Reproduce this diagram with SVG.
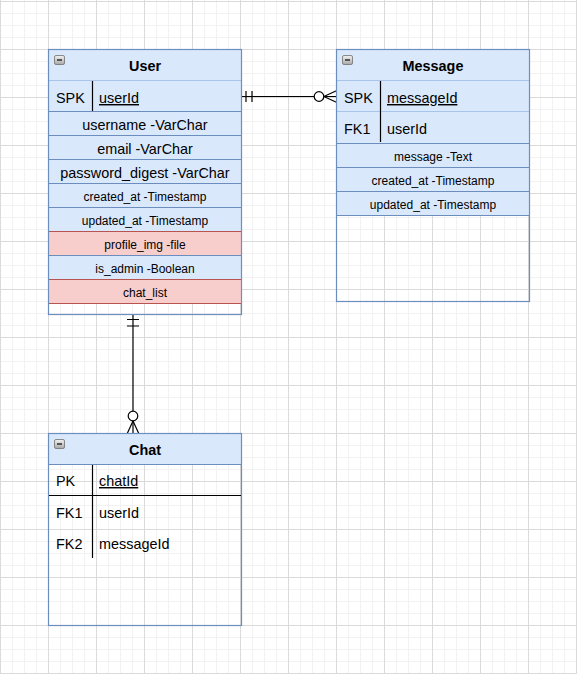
<svg xmlns="http://www.w3.org/2000/svg" width="577" height="674" viewBox="0 0 577 674">
<style>
text{font-family:"Liberation Sans",Arial,Helvetica,sans-serif;fill:#000}
.h{font-size:14.4px;font-weight:bold;text-anchor:middle}
.k{font-size:14.4px}
.a{font-size:14.4px;text-anchor:middle}
.s{font-size:12px;text-anchor:middle}
.u{text-decoration:underline}
.hdr{fill:#dae8fc;stroke:#6c8ebf;stroke-width:1}
.row{fill:#dae8fc;stroke:#6c8ebf;stroke-width:1}
.red{fill:#f8cecc;stroke:#b85450;stroke-width:1}
.box{fill:none;stroke:#6c8ebf;stroke-width:1.2}
.sep{stroke:#000;stroke-width:1.2}
.edge{fill:none;stroke:#000;stroke-width:1.2}
</style>
<defs>
<pattern id="minor" width="12" height="12" patternUnits="userSpaceOnUse" x="0" y="1">
<path d="M0.5 0V12M0 0.5H12" stroke="#f2f2f2" stroke-width="1" fill="none"/>
</pattern>
<pattern id="major" width="48" height="48" patternUnits="userSpaceOnUse" x="0" y="1">
<path d="M0.5 0V48M0 0.5H48" stroke="#dadada" stroke-width="1" fill="none"/>
</pattern>
<linearGradient id="ig" x1="0" y1="0" x2="0" y2="1">
<stop offset="0" stop-color="#f2f2f2"/>
<stop offset="1" stop-color="#a8a8a8"/>
</linearGradient>
<g id="icon">
<rect x="0" y="0" width="10" height="9" rx="1.5" fill="url(#ig)" stroke="#707070" stroke-width="0.8"/>
<path d="M2.5 4.5H7.5" stroke="#222" stroke-width="1.4"/>
</g>
</defs>
<rect width="577" height="674" fill="#fff"/>
<rect width="577" height="674" fill="url(#minor)"/>
<rect width="577" height="674" fill="url(#major)"/>

<g id="connectors">
<path class="edge" d="M241.5 96.5H337"/>
<path class="edge" d="M246 91V102M252 91V102"/>
<circle cx="319" cy="96.5" r="4.8" fill="#fff" stroke="#000" stroke-width="1.2"/>
<path class="edge" d="M323.8 96.5L337 90.5M323.8 96.5L337 102.5"/>
<path class="edge" d="M133 314.5V434"/>
<path class="edge" d="M127 319.5H139M127 326H139"/>
<circle cx="133" cy="416" r="4.8" fill="#fff" stroke="#000" stroke-width="1.2"/>
<path class="edge" d="M133 421L127 434M133 421L139 434"/>
</g>

<g id="user">
<rect class="hdr" x="48.5" y="49.5" width="193" height="31"/>
<rect class="row" x="48.5" y="80.5" width="193" height="31" style="stroke:#a9c4eb"/>
<rect class="row" x="48.5" y="111.5" width="193" height="24"/>
<rect class="row" x="48.5" y="135.5" width="193" height="24"/>
<rect class="row" x="48.5" y="159.5" width="193" height="24"/>
<rect class="row" x="48.5" y="183.5" width="193" height="24"/>
<rect class="row" x="48.5" y="207.5" width="193" height="24"/>
<rect class="red" x="48.5" y="231.5" width="193" height="24"/>
<rect class="row" x="48.5" y="255.5" width="193" height="24"/>
<rect class="red" x="48.5" y="279.5" width="193" height="24"/>
<rect class="box" x="48.5" y="49.5" width="193" height="265"/>
<path class="sep" d="M92.5 81V111"/>
<use href="#icon" x="54.5" y="55.5"/>
<text class="h" x="145" y="71">User</text>
<text class="k" x="56" y="103">SPK</text>
<text class="k u" x="99" y="103">userId</text>
<text class="a" x="145" y="130">username -VarChar</text>
<text class="a" x="145" y="154">email -VarChar</text>
<text class="a" x="145" y="178">password_digest -VarChar</text>
<text class="s" x="145" y="201">created_at -Timestamp</text>
<text class="s" x="145" y="225">updated_at -Timestamp</text>
<text class="s" x="145" y="249">profile_img -file</text>
<text class="s" x="145" y="273">is_admin -Boolean</text>
<text class="s" x="145" y="297">chat_list</text>
</g>

<g id="message">
<rect class="hdr" x="336.5" y="49.5" width="193" height="31"/>
<rect class="row" x="336.5" y="80.5" width="193" height="31" style="stroke:#a9c4eb"/>
<rect class="row" x="336.5" y="111.5" width="193" height="32" style="stroke:#a9c4eb"/>
<rect class="row" x="336.5" y="143.5" width="193" height="24"/>
<rect class="row" x="336.5" y="167.5" width="193" height="24"/>
<rect class="row" x="336.5" y="191.5" width="193" height="24"/>
<rect class="box" x="336.5" y="49.5" width="193" height="252"/>
<path class="sep" d="M380.5 81V142"/>
<use href="#icon" x="342.5" y="55.5"/>
<text class="h" x="433" y="71">Message</text>
<text class="k" x="344" y="103">SPK</text>
<text class="k u" x="387" y="103">messageId</text>
<text class="k" x="344" y="134">FK1</text>
<text class="k" x="387" y="134">userId</text>
<text class="s" x="433" y="161">message -Text</text>
<text class="s" x="433" y="185">created_at -Timestamp</text>
<text class="s" x="433" y="209">updated_at -Timestamp</text>
</g>

<g id="chat">
<rect class="hdr" x="48.5" y="433.5" width="193" height="31"/>
<rect class="box" x="48.5" y="433.5" width="193" height="192"/>
<path class="sep" d="M49 495.5H241"/>
<path class="sep" d="M92.5 465V558"/>
<use href="#icon" x="54.5" y="439.5"/>
<text class="h" x="145" y="455">Chat</text>
<text class="k" x="56" y="486">PK</text>
<text class="k u" x="99" y="486">chatId</text>
<text class="k" x="56" y="517.5">FK1</text>
<text class="k" x="99" y="517.5">userId</text>
<text class="k" x="56" y="549">FK2</text>
<text class="k" x="99" y="549">messageId</text>
</g>
</svg>
